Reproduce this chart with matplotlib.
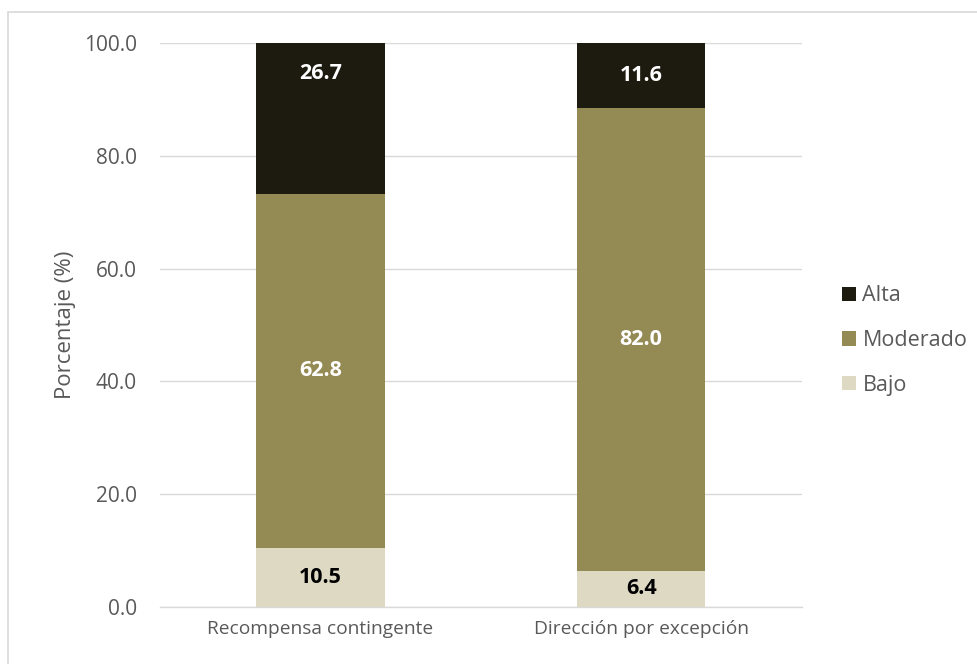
import matplotlib
matplotlib.use("Agg")
import matplotlib.pyplot as plt
from matplotlib.patches import Rectangle, Patch

categories = ["Recompensa contingente", "Dirección por excepción"]
bajo = [10.5, 6.4]
moderado = [62.8, 82.0]
alta = [26.7, 11.6]

series = [
    ("Bajo", bajo, "#ddd9c3", "#000000"),
    ("Moderado", moderado, "#948a54", "#ffffff"),
    ("Alta", alta, "#1d1b10", "#ffffff"),
]
# the first "Alta" label sits up near the top of its segment
label_nudge = {("Alta", 0): 8.0}

plt.rcParams["font.family"] = ["Open Sans", "DejaVu Sans"]
text_gray = "#595959"

fig = plt.figure(figsize=(9.78, 6.64), dpi=100)
ax = fig.add_axes([0.1636, 0.0858, 0.656, 0.8494])

# outer chart frame
fig.patches.append(Rectangle((8 / 978, -0.01), 1.0, 1 - 12 / 664 + 0.01,
                             transform=fig.transFigure, fill=False,
                             edgecolor="#d9d9d9", linewidth=1.2, zorder=0))

x = list(range(len(categories)))
bottom = [0.0] * len(categories)
for name, vals, color, txt in series:
    ax.bar(x, vals, width=0.4, bottom=bottom, color=color, label=name, zorder=3)
    for i, v in enumerate(vals):
        y = bottom[i] + v / 2 + label_nudge.get((name, i), 0.0)
        ax.text(x[i], y, f"{v:.1f}", ha="center", va="center",
                color=txt, fontsize=15.5, fontweight="bold", zorder=4)
    bottom = [b + v for b, v in zip(bottom, vals)]

ax.set_xlim(-0.5, len(categories) - 0.5)
ax.set_ylim(0, 100)
ax.set_yticks(range(0, 101, 20))
ax.set_yticklabels([f"{t:.1f}" for t in range(0, 101, 20)],
                   fontsize=15, color=text_gray)
ax.set_xticks(x)
ax.set_xticklabels(categories, fontsize=13.8, color=text_gray)
ax.tick_params(axis="both", length=0)
ax.tick_params(axis="x", pad=9)
ax.tick_params(axis="y", pad=16.5)
ax.yaxis.grid(True, color="#d9d9d9", linewidth=1.0, zorder=0)
ax.set_axisbelow(True)
for s in ["top", "right", "left"]:
    ax.spines[s].set_visible(False)
ax.spines["bottom"].set_color("#d9d9d9")
ax.spines["bottom"].set_linewidth(1.0)
ax.set_ylabel("Porcentaje (%)", fontsize=16, color=text_gray, labelpad=6)

handles = [Patch(facecolor=c, label=n) for n, _, c, _ in reversed(series)]
leg = fig.legend(handles=handles, loc="center left", bbox_to_anchor=(842 / 978, 0.487),
                 frameon=False, fontsize=15.5, handlelength=0.65, handleheight=0.65,
                 handletextpad=0.3, labelspacing=1.1, borderpad=0, borderaxespad=0)
for t in leg.get_texts():
    t.set_color(text_gray)

fig.savefig("out.png", dpi=100)
